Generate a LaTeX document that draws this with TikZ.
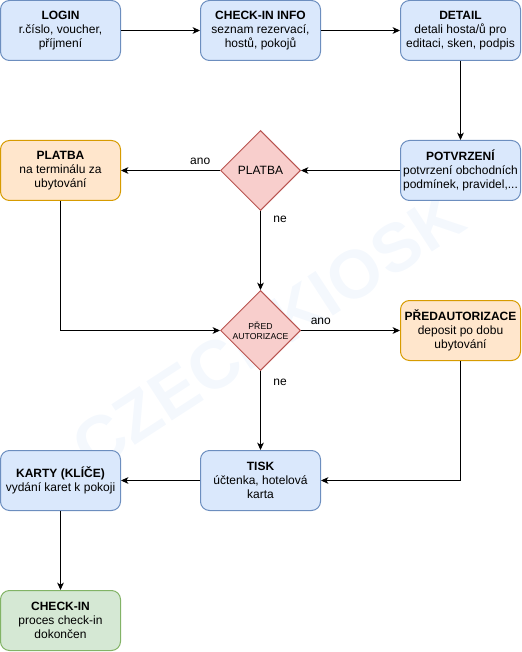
\documentclass[tikz,border=0pt]{standalone}
\usepackage{fontspec}
\setmainfont{Liberation Sans}
\usetikzlibrary{arrows.meta,shapes.geometric}
\definecolor{bluefill}{HTML}{DAE8FC}
\definecolor{bluedraw}{HTML}{6C8EBF}
\definecolor{orfill}{HTML}{FFE6CC}
\definecolor{ordraw}{HTML}{D79B00}
\definecolor{grfill}{HTML}{D5E8D4}
\definecolor{grdraw}{HTML}{82B366}
\definecolor{redfill}{HTML}{F8CECC}
\definecolor{reddraw}{HTML}{B85450}
\definecolor{wmark}{RGB}{244,248,253}
\begin{document}
\begin{tikzpicture}[x=0.75pt,y=-0.75pt,
  txt/.style={font=\fontsize{9}{10.5}\selectfont, align=center},
  box/.style={txt, rectangle, rounded corners=6.75pt, minimum width=90pt, minimum height=45pt, inner sep=1pt, line width=0.75pt},
  bluebox/.style={box, draw=bluedraw, fill=bluefill},
  orbox/.style={box, draw=ordraw, fill=orfill},
  grbox/.style={box, draw=grdraw, fill=grfill},
  dia/.style={diamond, aspect=1, minimum width=60pt, minimum height=60pt, inner sep=0pt, draw=reddraw, fill=redfill, line width=0.75pt, align=center},
  arr/.style={draw, line width=0.75pt, -{Stealth[length=5.5pt,width=5pt,inset=1.5pt]}},
  lbl/.style={font=\fontsize{9}{10.5}\selectfont}
]
\useasboundingbox (0,0) rectangle (521,652);
\node[rotate=33, text=wmark, font=\fontsize{51}{55}\selectfont\bfseries] (wm) at (268,331) {CZECHKIOSK};

\node[bluebox] (login) at (60.5,30.5) {\textbf{LOGIN}\\r.číslo, voucher,\\příjmení};
\node[bluebox] (info) at (260.5,30.5) {\textbf{CHECK-IN INFO}\\seznam rezervací,\\hostů, pokojů};
\node[bluebox] (detail) at (460.5,30.5) {\textbf{DETAIL}\\detali hosta/ů pro\\editaci, sken, podpis};
\node[bluebox] (potvr) at (460.5,170.5) {\textbf{POTVRZENÍ}\\potvrzení obchodních\\podmínek, pravidel,...};
\node[dia, font=\fontsize{9}{10.5}\selectfont] (dplat) at (260.5,170.5) {PLATBA};
\node[orbox] (plat) at (60.5,170.5) {\textbf{PLATBA}\\na terminálu za\\ubytování};
\node[dia, font=\fontsize{6.5}{7.5}\selectfont] (dpred) at (260.5,330.5) {PŘED\\AUTORIZACE};
\node[orbox] (preda) at (460.5,330.5) {\textbf{PŘEDAUTORIZACE}\\deposit po dobu\\ubytování};
\node[bluebox] (tisk) at (260.5,480.5) {\textbf{TISK}\\účtenka, hotelová\\karta};
\node[bluebox] (karty) at (60.5,480.5) {\textbf{KARTY (KLÍČE)}\\vydání karet k pokoji};
\node[grbox] (done) at (60.5,620.5) {\textbf{CHECK-IN}\\proces check-in\\dokončen};

\draw[arr] (login) -- (info);
\draw[arr] (info) -- (detail);
\draw[arr] (detail) -- (potvr);
\draw[arr] (potvr) -- (dplat);
\draw[arr] (dplat) -- node[lbl, pos=0.2, above, yshift=1pt] (l1) {ano} (plat);
\draw[arr] (dplat) -- node[lbl, pos=0.1, right, xshift=6pt] (l2) {ne} (dpred);
\draw[arr] (plat.south) |- (dpred.west);
\draw[arr] (dpred) -- node[lbl, pos=0.2, above, yshift=1pt] (l3) {ano} (preda);
\draw[arr] (dpred) -- node[lbl, pos=0.14, right, xshift=6pt] (l4) {ne} (tisk);
\draw[arr] (preda.south) |- (tisk.east);
\draw[arr] (tisk) -- (karty);
\draw[arr] (karty) -- (done);
\end{tikzpicture}
\end{document}
